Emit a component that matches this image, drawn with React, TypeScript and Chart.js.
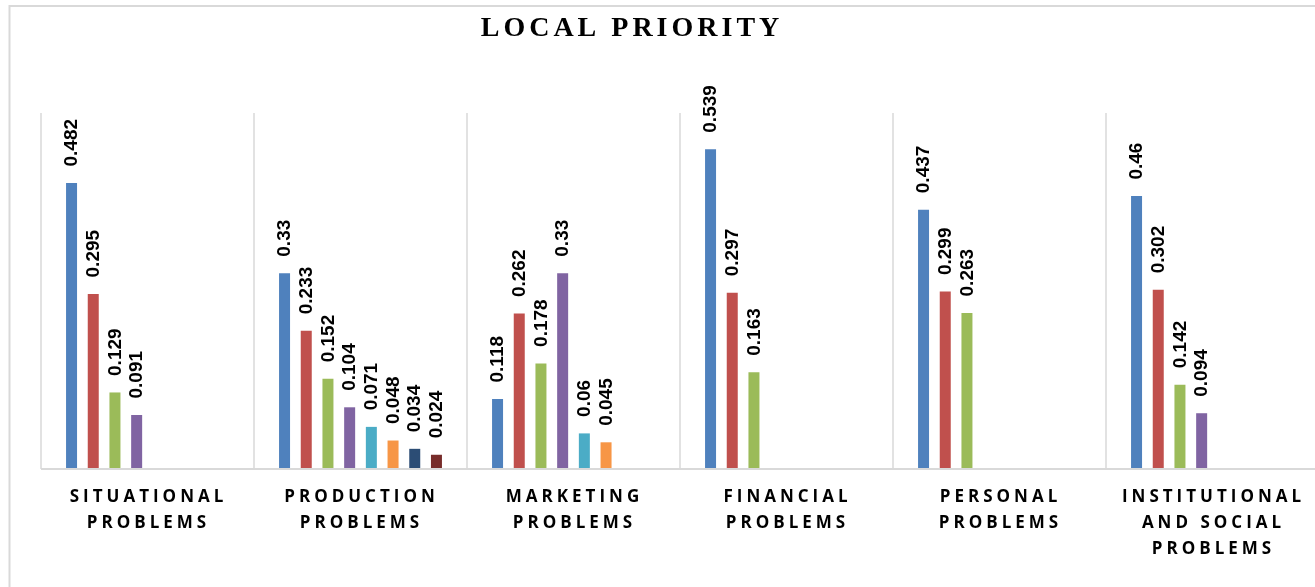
import React, { useEffect, useRef } from "react";
import { Chart, registerables } from "chart.js";

Chart.register(...registerables);

const TITLE = "LOCAL PRIORITY";
const categories: string[][] = [
  ["SITUATIONAL", "PROBLEMS"],
  ["PRODUCTION", "PROBLEMS"],
  ["MARKETING", "PROBLEMS"],
  ["FINANCIAL", "PROBLEMS"],
  ["PERSONAL", "PROBLEMS"],
  ["INSTITUTIONAL", "AND SOCIAL", "PROBLEMS"],
];

const series1 = [0.482, 0.33, 0.118, 0.539, 0.437, 0.46];
const series2 = [0.295, 0.233, 0.262, 0.297, 0.299, 0.302];
const series3 = [0.129, 0.152, 0.178, 0.163, 0.263, 0.142];
const series4 = [0.091, 0.104, 0.33, null, null, 0.094];
const series5 = [null, 0.071, 0.06, null, null, null];
const series6 = [null, 0.048, 0.045, null, null, null];
const series7 = [null, 0.034, null, null, null, null];
const series8 = [null, 0.024, null, null, null, null];

const allSeries = [series1, series2, series3, series4, series5, series6, series7, series8];
const colors = ["#4F81BD", "#C0504D", "#9BBB59", "#8064A2", "#4BACC6", "#F79646", "#2C4D75", "#772C2A"];

const yMax = 0.6;

function drawSpaced(ctx: CanvasRenderingContext2D, text: string, cx: number, cy: number, spacing: number) {
  (ctx as any).letterSpacing = "0px";
  const base = ctx.measureText(text).width;
  const w = base + spacing * (text.length - 1);
  (ctx as any).letterSpacing = spacing + "px";
  ctx.textAlign = "left";
  ctx.textBaseline = "middle";
  ctx.fillText(text, cx - w / 2, cy);
  (ctx as any).letterSpacing = "0px";
}

const decorPlugin = {
  id: "decor",
  beforeDatasetsDraw(chart: any) {
    const ctx = chart.ctx as CanvasRenderingContext2D;
    const area = chart.chartArea;
    const xs = chart.scales.x;
    const n = categories.length;
    const catW = (area.right - area.left) / n;
    ctx.save();
    ctx.strokeStyle = "#d9d9d9";
    ctx.lineWidth = 2;
    ctx.strokeRect(9.5, 6, 2000, 2000);
    ctx.lineWidth = 1.5;
    for (let i = 0; i <= n; i++) {
      const x = i < n ? xs.getPixelForValue(i) - catW / 2 : xs.getPixelForValue(n - 1) + catW / 2;
      ctx.beginPath();
      ctx.moveTo(x, area.top);
      ctx.lineTo(x, area.bottom);
      ctx.stroke();
    }
    ctx.restore();
  },
  afterDatasetsDraw(chart: any) {
    const ctx = chart.ctx as CanvasRenderingContext2D;
    const area = chart.chartArea;
    const xs = chart.scales.x;
    ctx.save();
    ctx.strokeStyle = "#d9d9d9";
    ctx.lineWidth = 2;
    ctx.beginPath();
    ctx.moveTo(area.left, area.bottom);
    ctx.lineTo(area.right, area.bottom);
    ctx.stroke();

    ctx.fillStyle = "#000";
    ctx.font = "bold 19px 'Liberation Sans', Arial, sans-serif";
    chart.data.datasets.forEach((ds: any, di: number) => {
      const meta = chart.getDatasetMeta(di);
      meta.data.forEach((el: any, i: number) => {
        const v = ds.data[i];
        if (v === null || v === undefined) return;
        ctx.save();
        ctx.translate(el.x + 0.5, el.y - 16.5);
        ctx.rotate(-Math.PI / 2);
        ctx.textAlign = "left";
        ctx.textBaseline = "middle";
        ctx.fillText(String(v), 0, 0);
        ctx.restore();
      });
    });

    ctx.font = "bold 17px 'Open Sans', sans-serif";
    categories.forEach((lines, i) => {
      const cx = xs.getPixelForValue(i) - 1;
      lines.forEach((line, li) => {
        drawSpaced(ctx, line, cx, 497 + li * 26, 4);
      });
    });

    ctx.font = "bold 28px 'Liberation Serif', 'Times New Roman', serif";
    drawSpaced(ctx, TITLE, 630, 29, 4);
    ctx.restore();
  },
};

export default function App() {
  const ref = useRef<HTMLCanvasElement>(null);
  useEffect(() => {
    if (!ref.current) return;
    const chart = new Chart(ref.current, {
      type: "bar",
      data: {
        labels: categories.map((c) => c.join(" ")),
        datasets: allSeries.map((s, i) => ({
          label: "Series " + (i + 1),
          data: s as any,
          backgroundColor: colors[i],
          borderWidth: 0,
          categoryPercentage: 0.815,
          barPercentage: 0.507,
          skipNull: false,
        })),
      },
      options: {
        responsive: false,
        animation: false,
        devicePixelRatio: 1,
        layout: { padding: { left: 41, top: 113, right: 11, bottom: 118 } },
        plugins: {
          legend: { display: false },
          title: { display: false },
          tooltip: { enabled: false },
        },
        scales: {
          x: { display: false },
          y: { display: false, min: 0, max: yMax },
        },
      },
      plugins: [decorPlugin],
    });
    return () => chart.destroy();
  }, []);
  return (
    <div style={{ position: "fixed", left: 0, top: 0, width: 1315, height: 587, overflow: "hidden", background: "#fff" }}>
      <canvas ref={ref} width={1330} height={587} style={{ display: "block" }} />
    </div>
  );
}
